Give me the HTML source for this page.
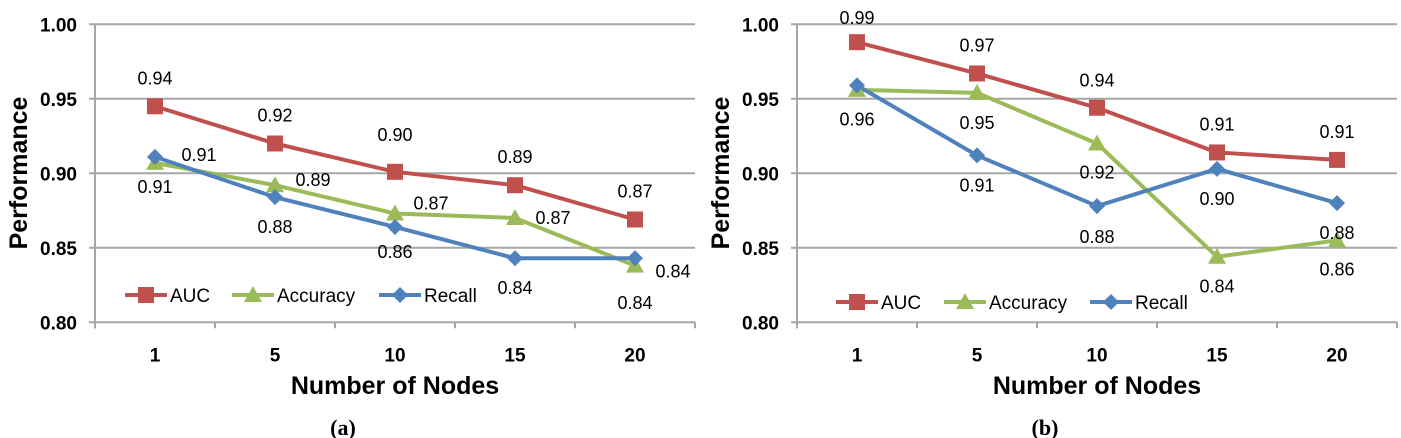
<!DOCTYPE html>
<html><head><meta charset="utf-8"><style>
body{margin:0;background:#fff;width:1401px;height:438px;overflow:hidden}
svg{display:block}
text{font-family:"Liberation Sans",sans-serif}
</style></head><body>
<svg id="c" width="1401" height="438"></svg>
<script>
const categories = ["1","5","10","15","20"];
const yTicks = [0.80,0.85,0.90,0.95,1.00];
const aAUC = [0.945,0.920,0.901,0.892,0.869];
const aAcc = [0.907,0.892,0.873,0.870,0.838];
const aRec = [0.911,0.884,0.864,0.843,0.843];
const aAUCLabels = ["0.94","0.92","0.90","0.89","0.87"];
const aAccLabels = ["0.91","0.89","0.87","0.87","0.84"];
const aRecLabels = ["0.91","0.88","0.86","0.84","0.84"];
const bAUC = [0.988,0.967,0.944,0.914,0.909];
const bAcc = [0.956,0.954,0.920,0.844,0.855];
const bRec = [0.959,0.912,0.878,0.903,0.880];
const bAUCLabels = ["0.99","0.97","0.94","0.91","0.91"];
const bAccLabels = ["","0.95","0.92","0.84","0.86"];
const bRecLabels = ["0.96","0.91","0.88","0.90","0.88"];

const NS="http://www.w3.org/2000/svg";
const svg=document.getElementById('c');
function el(tag,attrs,parent){const e=document.createElementNS(NS,tag);for(const k in attrs)e.setAttribute(k,attrs[k]);(parent||svg).appendChild(e);return e;}
const COL={auc:"#c0504d",acc:"#9bbb59",rec:"#4f81bd"};

function marker(g,kind,x,y){
  let m;
  if(kind==='auc'){m=el('rect',{x:x-8,y:y-8,width:16,height:16,fill:COL.auc},g);}
  else if(kind==='acc'){m=el('polygon',{points:`${x},${y-9} ${x+9},${y+7} ${x-9},${y+7}`,fill:COL.acc},g);}
  else {m=el('polygon',{points:`${x},${y-8} ${x+8},${y} ${x},${y+8} ${x-8},${y}`,fill:COL.rec},g);}
  return m;
}

function chart(cfg){
  const g=el('g',{});
  
  
  const x0=cfg.x0,x1=cfg.x0+600,yTop=24.3,yBot=322.3;
  const yScale=v=>yBot-(v-0.80)/0.20*(yBot-yTop);
  const band=(x1-x0)/categories.length;
  const xScale=i=>x0+band*(i+0.5);
  yTicks.forEach(t=>{
    const y=yScale(t);
    const gl=el('line',{x1:x0-6,x2:x1,y1:y,y2:y,stroke:'#a6a6a6','stroke-width':2},g);
    
    
    const tl=el('text',{x:x0-18,y:y+7,'text-anchor':'end','font-size':19,'font-weight':'bold',fill:'#000'},g);
    tl.textContent=t.toFixed(2);
    
    
  });
  el('line',{x1:x0,x2:x0,y1:yTop,y2:yBot+6,stroke:'#a6a6a6','stroke-width':2},g);
  for(let i=0;i<=categories.length;i++){
    el('line',{x1:x0+band*i,x2:x0+band*i,y1:yBot,y2:yBot+6,stroke:'#a6a6a6','stroke-width':2},g);
  }
  categories.forEach((c,i)=>{
    const t=el('text',{x:xScale(i),y:yBot+39,'text-anchor':'middle','font-size':19,'font-weight':'bold'},g);
    t.textContent=c;
    
    
  });
  const yt=el('text',{x:0,y:0,transform:`translate(${x0-68},${173}) rotate(-90)`,'text-anchor':'middle','font-size':25,'font-weight':'bold'},g);
  yt.textContent='Performance';
  
  
  const xt=el('text',{x:x0+300,y:394,'text-anchor':'middle','font-size':25,'font-weight':'bold'},g);
  xt.textContent='Number of Nodes';
  
  
  const cap=el('text',{x:x0+248,y:435,'text-anchor':'middle','font-size':22,'font-weight':'bold',style:'font-family:"Liberation Serif",serif'},g);
  cap.textContent=cfg.caption;
  
  

  cfg.series.forEach(s=>{
    const pts=s.values.map((v,i)=>xScale(i)+','+yScale(v)).join(' ');
    const pl=el('polyline',{points:pts,fill:'none',stroke:COL[s.kind],'stroke-width':4,'stroke-linejoin':'round'},g);
    
    
  });
  cfg.series.forEach(s=>{
    s.values.forEach((v,i)=>{
      const m=marker(g,s.kind,xScale(i),yScale(v));
      
      
      if(s.labels[i]){
        const t=el('text',{x:xScale(i)+s.dx[i],y:yScale(v)+s.dy[i]+6,'text-anchor':'middle','font-size':18},g);
        t.textContent=s.labels[i];
        
        
      }
    });
  });
  const names={auc:'AUC',acc:'Accuracy',rec:'Recall'};
  cfg.legend.forEach(L=>{
    const lg=el('g',{},g);
    
    
    el('line',{x1:L.x,x2:L.x+42,y1:cfg.ly,y2:cfg.ly,stroke:COL[L.kind],'stroke-width':4},lg);
    marker(lg,L.kind,L.x+21,cfg.ly);
    const t=el('text',{x:L.x+45,y:cfg.ly+7,'font-size':19},lg);
    t.textContent=names[L.kind];
  });
}

chart({name:'chart-a',caption:'(a)',x0:95,ly:295,
  legend:[{kind:'auc',x:125},{kind:'acc',x:232},{kind:'rec',x:379}],
  series:[
    {kind:'auc',values:aAUC,labels:aAUCLabels,dx:[0,0,0,0,0],dy:[-28,-28,-37,-28,-28]},
    {kind:'acc',values:aAcc,labels:aAccLabels,dx:[44,38,36,38,38],dy:[-8,-5,-10,0,6]},
    {kind:'rec',values:aRec,labels:aRecLabels,dx:[0,0,0,0,0],dy:[30,30,25,30,45]}
  ]});
chart({name:'chart-b',caption:'(b)',x0:797,ly:302,
  legend:[{kind:'auc',x:836},{kind:'acc',x:944},{kind:'rec',x:1090}],
  series:[
    {kind:'auc',values:bAUC,labels:bAUCLabels,dx:[0,0,0,0,0],dy:[-24,-28,-27,-28,-28]},
    {kind:'acc',values:bAcc,labels:bAccLabels,dx:[0,0,0,0,0],dy:[30,30,29,30,29]},
    {kind:'rec',values:bRec,labels:bRecLabels,dx:[0,0,0,0,0],dy:[34,30,31,30,30]}
  ]});
</script>
</body></html>
